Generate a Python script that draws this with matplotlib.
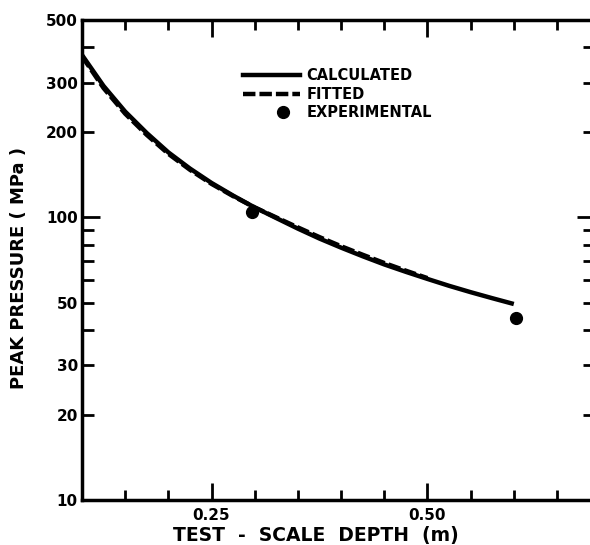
import matplotlib
matplotlib.use("Agg")
import matplotlib.pyplot as plt
from matplotlib.ticker import FixedLocator, FixedFormatter, NullFormatter
from matplotlib.lines import Line2D
from matplotlib.legend_handler import HandlerLine2D

# ---- data ----
depth_calc = [0.100, 0.125, 0.150, 0.175, 0.200, 0.225, 0.250, 0.275, 0.300, 0.325, 0.350,
              0.375, 0.400, 0.425, 0.450, 0.475, 0.500, 0.525, 0.550, 0.575, 0.600]
press_calc = [376, 292, 237, 199, 170, 149, 132.5, 119.5, 108.5, 99.5, 91.3,
              84.2, 78.2, 72.9, 68.2, 64.2, 60.6, 57.3, 54.4, 51.8, 49.4]

depth_fit = [0.100, 0.125, 0.150, 0.175, 0.200, 0.225, 0.250, 0.275, 0.300, 0.325, 0.350,
             0.375, 0.400, 0.425, 0.450, 0.475, 0.500]
press_fit = [372, 287, 233, 196, 168, 147.5, 131.5, 119, 108.5, 100, 92.2,
             85.2, 79.1, 73.8, 69.0, 64.8, 61.0]

depth_exp = [0.297, 0.603]
press_exp = [104.5, 44.0]

x_major = [0.25, 0.50]
x_major_labels = ["0.25", "0.50"]
x_minor = [0.15, 0.20, 0.30, 0.35, 0.40, 0.45, 0.55, 0.60, 0.65]

y_major = [100]
y_major_labels = ["100"]
y_minor = [10, 20, 30, 40, 50, 60, 70, 80, 90, 200, 300, 400, 500]
y_minor_labels = ["10", "20", "30", "", "50", "", "", "", "", "200", "300", "", "500"]

legend_labels = ["CALCULATED", "FITTED", "EXPERIMENTAL"]


class OffsetMarkerHandler(HandlerLine2D):
    """Legend handler that draws one marker right of the handle centre."""
    def get_xdata(self, legend, xdescent, ydescent, width, height, fontsize):
        x = [-xdescent + 0.70 * width]
        return x, x


# ---- figure ----
W, H = 590, 545
fig = plt.figure(figsize=(W / 100, H / 100), dpi=100)
left_px, right_px, top_px, bottom_px = 82, 595, 20, 500
ax = fig.add_axes([left_px / W, 1 - bottom_px / H, (right_px - left_px) / W, (bottom_px - top_px) / H])

LW = 3.2
DASH = (0, (2.8, 0.9))
ax.plot(depth_calc, press_calc, color="black", lw=LW, solid_capstyle="butt")
ax.plot(depth_fit, press_fit, color="black", lw=LW, ls=DASH, dash_capstyle="butt")
ax.plot(depth_exp, press_exp, "o", color="black", ms=8.5)

ax.set_yscale("log")
ax.set_xlim(0.10, 0.694)
ax.set_ylim(10, 500)

for s in ax.spines.values():
    s.set_linewidth(2.5)

ax.xaxis.set_major_locator(FixedLocator(x_major))
ax.xaxis.set_major_formatter(FixedFormatter(x_major_labels))
ax.xaxis.set_minor_locator(FixedLocator(x_minor))
ax.xaxis.set_minor_formatter(NullFormatter())

ax.yaxis.set_major_locator(FixedLocator(y_major))
ax.yaxis.set_major_formatter(FixedFormatter(y_major_labels))
ax.yaxis.set_minor_locator(FixedLocator(y_minor))
ax.yaxis.set_minor_formatter(FixedFormatter(y_minor_labels))

tick_font = dict(family="DejaVu Sans", weight="bold", size=11)
ax.tick_params(which="both", direction="in", top=True, right=True, width=2.0, colors="black")
ax.tick_params(axis="x", which="major", length=12.5, pad=6)
ax.tick_params(axis="x", which="minor", length=7.5, pad=6)
ax.tick_params(axis="y", which="major", length=13, pad=3)
ax.tick_params(axis="y", which="minor", length=8.5, pad=3)
for lab in ax.get_xticklabels() + ax.get_yticklabels() + ax.get_yticklabels(minor=True):
    lab.set_fontproperties(tick_font)

h_calc = Line2D([], [], color="black", lw=LW)
h_fit = Line2D([], [], color="black", lw=LW, ls=DASH)
h_exp = Line2D([], [], color="black", ls="none", marker="o", ms=8.5)
leg = ax.legend([h_calc, h_fit, h_exp], legend_labels, loc="upper left",
                bbox_to_anchor=((243 - left_px) / (right_px - left_px), 1 - (68 - top_px) / (bottom_px - top_px)),
                frameon=False, handlelength=3.9, handletextpad=0.45, labelspacing=0.25,
                borderaxespad=0, borderpad=0,
                handler_map={h_exp: OffsetMarkerHandler(numpoints=2)},
                prop=dict(family="DejaVu Sans", weight="bold", size=10.5))

fig.text(316 / W, 1 - 535 / H, "TEST  -  SCALE  DEPTH  (m)", ha="center", va="center",
         fontsize=13.5, fontweight="bold", family="DejaVu Sans")
fig.text(19 / W, 1 - 268 / H, "PEAK PRESSURE ( MPa )", ha="center", va="center",
         rotation=90, fontsize=13, fontweight="bold", family="DejaVu Sans")

fig.savefig("out.png", dpi=100, facecolor="white")
